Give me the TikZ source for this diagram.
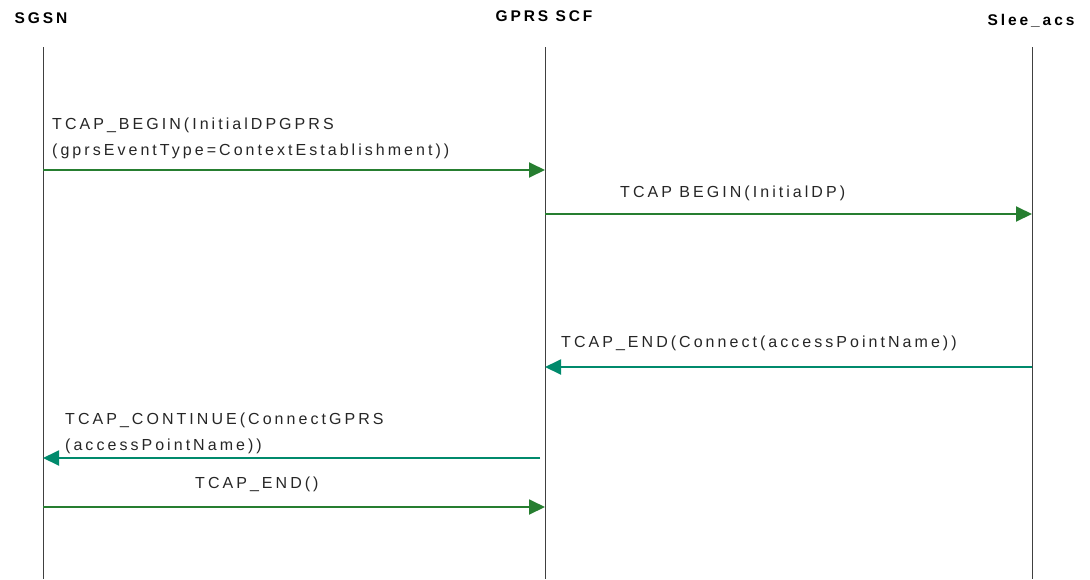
\documentclass[tikz,border=0pt]{standalone}
\usepackage{fontspec}
\usepackage{xcolor}
\usepackage{tikz}
\usetikzlibrary{arrows.meta}
\newfontfamily\msgfont[LetterSpace=19]{Liberation Sans}
\definecolor{sendgreen}{RGB}{38,126,48}
\definecolor{backteal}{RGB}{0,138,108}

\begin{document}
\begin{tikzpicture}[x=1pt,y=-1pt,
  life/.style={draw=black!75,line width=0.9pt},
  msg/.style={line width=1.9pt,-{Triangle[length=16pt,width=15pt]}},
  head/.style={inner sep=0pt,anchor=base,font=\msgfont\bfseries\fontsize{15.5}{18}\selectfont},
  lbl/.style={inner sep=0pt,anchor=base west,align=left,text=black!85,font=\msgfont\fontsize{16}{26}\selectfont}]
\useasboundingbox (0,0) rectangle (1090,579);

% entities
\node[head] (sgsn) at (41,23) {SGSN};
\node[head] (scf) at (544,21) {GPRS SCF};
\node[head] (slee) at (1031,25) {Slee\_acs};

% lifelines
\coordinate (sgsn0) at (43,47);
\coordinate (sgsn1) at (43,579);
\coordinate (scf0) at (545,47);
\coordinate (scf1) at (545,579);
\coordinate (slee0) at (1032,47);
\coordinate (slee1) at (1032,579);
\draw[life] (sgsn0) -- (sgsn1);
\draw[life] (scf0) -- (scf1);
\draw[life] (slee0) -- (slee1);

% message ends
\coordinate (m1a) at (43,170);
\coordinate (m1b) at (545,170);
\coordinate (m2a) at (545,214);
\coordinate (m2b) at (1032,214);
\coordinate (m3a) at (1032,367);
\coordinate (m3b) at (545,367);
\coordinate (m4a) at (540,458);
\coordinate (m4b) at (43,458);
\coordinate (m5a) at (43,507);
\coordinate (m5b) at (545,507);

\draw[msg,sendgreen] (m1a) -- (m1b);
\draw[msg,sendgreen] (m2a) -- (m2b);
\draw[msg,backteal] (m3a) -- (m3b);
\draw[msg,backteal] (m4a) -- (m4b);
\draw[msg,sendgreen] (m5a) -- (m5b);

% labels (base = last line)
\node[lbl] (l1) at (52,155) {TCAP\_BEGIN(InitialDPGPRS\\(gprsEventType=ContextEstablishment))};
\node[lbl] (l2) at (620,197) {TCAP BEGIN(InitialDP)};
\node[lbl] (l3) at (561,347) {TCAP\_END(Connect(accessPointName))};
\node[lbl] (l4) at (65,450) {TCAP\_CONTINUE(ConnectGPRS\\(accessPointName))};
\node[lbl] (l5) at (195,488) {TCAP\_END()};
\end{tikzpicture}
\end{document}
